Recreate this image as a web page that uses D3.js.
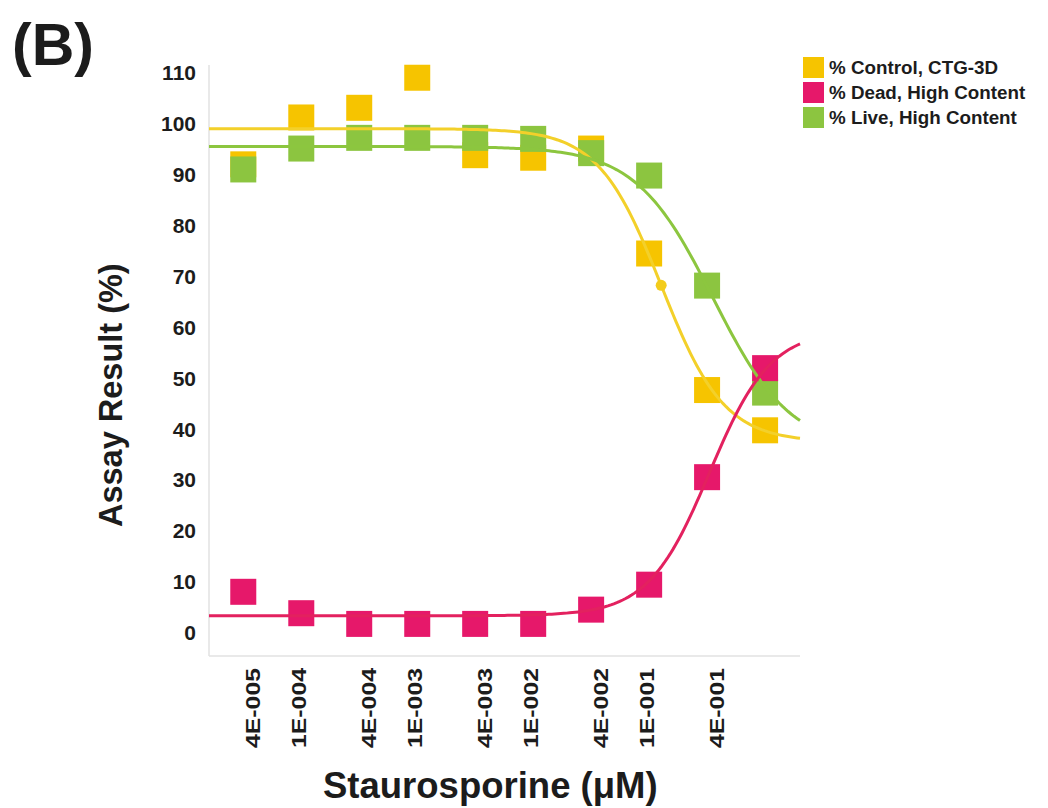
<!DOCTYPE html>
<html>
<head>
<meta charset="utf-8">
<script src="https://cdn.jsdelivr.net/npm/d3@7"></script>
<style>
  body { margin: 0; background: #fff; }
  text { font-family: "Liberation Sans", Arial, sans-serif; font-weight: bold; fill: #1c1c1c; }
</style>
</head>
<body>
<div id="chart"></div>
<script>
// Staurosporine concentrations (uM), half-log dilution series
const concentrations = [3.16e-5, 1e-4, 3.16e-4, 1e-3, 3.16e-3, 1e-2, 3.16e-2, 1e-1, 3.16e-1, 1];

// Assay results (%)
const controlCTG = [92, 101.2, 103.1, 109, 93.8, 93.3, 95.1, 74.5, 47.7, 39.8];
const deadHC = [8.1, 3.9, 1.8, 1.8, 1.8, 1.8, 4.6, 9.5, 30.6, 52];
const liveHC = [91, 95.1, 97.2, 97.2, 97.2, 97, 94.2, 89.8, 68.2, 47.2];

// 4-parameter logistic fits (as drawn in the figure)
const controlFit = { top: 99, bottom: 37.5, ec50: 0.127, hill: -1.6 };
const deadFit = { top: 59.5, bottom: 3.4, ec50: 0.331, hill: 1.65 };
const liveFit = { top: 95.5, bottom: 36, ec50: 0.356, hill: -1.3 };

const xTickValues = [4e-5, 1e-4, 4e-4, 1e-3, 4e-3, 1e-2, 4e-2, 1e-1, 4e-1];
const yTickValues = [0, 10, 20, 30, 40, 50, 60, 70, 80, 90, 100, 110];

const seriesNames = ["% Control, CTG-3D", "% Dead, High Content", "% Live, High Content"];

const svgWidth = 1048;
const svgHeight = 808;

const svg = d3.select("#chart")
  .append("svg")
  .attr("width", svgWidth)
  .attr("height", svgHeight);

const xScale = d3.scaleLog()
  .domain([1.6e-5, 2.0])
  .range([209, 800]);

const yScale = d3.scaleLinear()
  .domain([-4.5, 111.5])
  .range([656, 65]);

// Panel label
svg.append("text")
  .attr("x", 12)
  .attr("y", 65)
  .style("font-size", "59px")
  .text("(B)");

// Axis lines
svg.append("line")
  .attr("x1", xScale.range()[0]).attr("x2", xScale.range()[0])
  .attr("y1", yScale.range()[0]).attr("y2", yScale.range()[1])
  .attr("stroke", "#e2e2e2").attr("stroke-width", 1.5);
svg.append("line")
  .attr("x1", xScale.range()[0]).attr("x2", xScale.range()[1])
  .attr("y1", yScale.range()[0]).attr("y2", yScale.range()[0])
  .attr("stroke", "#e2e2e2").attr("stroke-width", 1.5);

// Y tick labels
const yAxis = svg.append("g")
  .attr("class", "y-axis")
  .attr("transform", "translate(" + xScale.range()[0] + ",0)")
  .call(d3.axisLeft(yScale).tickValues(yTickValues).tickSize(0).tickPadding(13));
yAxis.select(".domain").remove();
yAxis.selectAll("text")
  .attr("fill", "#1c1c1c")
  .style("font-size", "21px");

// X tick labels
function formatTick(d) {
  const exp = Math.floor(Math.log10(d) + 1e-9);
  const mant = Math.round(d / Math.pow(10, exp));
  const sign = exp < 0 ? "-" : "+";
  return mant + "E" + sign + String(Math.abs(exp)).padStart(3, "0");
}

svg.append("g")
  .attr("class", "x-axis")
  .selectAll("text")
  .data(xTickValues)
  .join("text")
  .attr("transform", d => "translate(" + (xScale(d) - 3) + ",668) rotate(-90)")
  .attr("text-anchor", "end")
  .attr("dy", "0.36em")
  .attr("textLength", 80)
  .attr("lengthAdjust", "spacingAndGlyphs")
  .style("font-size", "21px")
  .text(formatTick);

// Axis titles
svg.append("text")
  .attr("x", 323)
  .attr("y", 798)
  .style("font-size", "36.5px")
  .text("Staurosporine (\u03bcM)");

svg.append("text")
  .attr("transform", "translate(122,527) rotate(-90)")
  .attr("text-anchor", "start")
  .style("font-size", "32.5px")
  .text("Assay Result (%)");

// Series
const series = [
  { name: seriesNames[0], values: controlCTG, fit: controlFit, fill: "#f6c400", stroke: "#f3d02a" },
  { name: seriesNames[2], values: liveHC, fit: liveFit, fill: "#8cc540", stroke: "#8cc63f" },
  { name: seriesNames[1], values: deadHC, fit: deadFit, fill: "#e6186a", stroke: "#e3215f" }
];

function logistic(fit, c) {
  return fit.bottom + (fit.top - fit.bottom) / (1 + Math.pow(fit.ec50 / c, fit.hill));
}

const squareSize = 26;

series.forEach(s => {
  svg.append("g")
    .selectAll("rect")
    .data(s.values)
    .join("rect")
    .attr("x", (d, i) => xScale(concentrations[i]) - squareSize / 2)
    .attr("y", d => yScale(d) - squareSize / 2)
    .attr("width", squareSize)
    .attr("height", squareSize)
    .attr("fill", s.fill);
});

const logDomain = xScale.domain().map(Math.log10);
const curveSamples = d3.range(0, 201).map(k => Math.pow(10, logDomain[0] + (logDomain[1] - logDomain[0]) * k / 200));

const line = d3.line()
  .x(d => xScale(d[0]))
  .y(d => yScale(d[1]));

series.forEach(s => {
  svg.append("path")
    .datum(curveSamples.map(c => [c, logistic(s.fit, c)]))
    .attr("fill", "none")
    .attr("stroke", s.stroke)
    .attr("stroke-width", 3)
    .attr("d", line);
});

// IC50 marker on the control curve
svg.append("circle")
  .attr("cx", xScale(controlFit.ec50))
  .attr("cy", yScale(logistic(controlFit, controlFit.ec50)))
  .attr("r", 5.5)
  .attr("fill", "#f3cc1c");

// Legend
const legendColors = ["#f6c400", "#e6186a", "#8cc540"];
const legend = svg.append("g").attr("transform", "translate(803,57)");
const legendRows = legend.selectAll("g")
  .data(seriesNames)
  .join("g")
  .attr("transform", (d, i) => "translate(0," + i * 25 + ")");
legendRows.append("rect")
  .attr("width", 21)
  .attr("height", 21)
  .attr("fill", (d, i) => legendColors[i]);
legendRows.append("text")
  .attr("x", 26)
  .attr("y", 10.5)
  .attr("dy", "0.36em")
  .style("font-size", "18.8px")
  .text(d => d);
</script>
</body>
</html>
